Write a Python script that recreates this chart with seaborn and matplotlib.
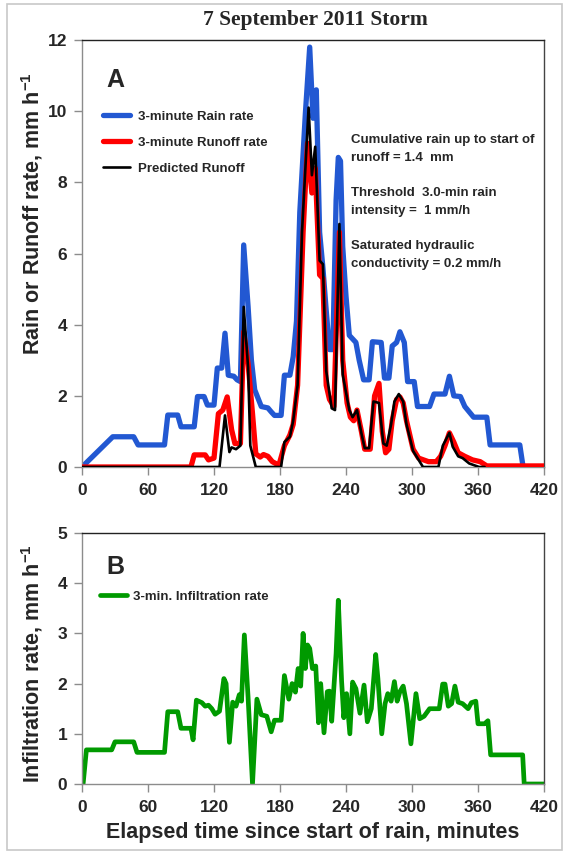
import numpy as np
import pandas as pd
import matplotlib
matplotlib.use("Agg")
import matplotlib.pyplot as plt
from matplotlib.patches import Rectangle
import seaborn as sns

# ---------------- data ----------------
rain_t = [0, 28, 47, 51, 75, 78, 87, 90, 102, 105, 111, 114, 120, 123, 127, 130, 133, 138,
          141, 144, 147, 151, 154, 157, 163, 169, 172, 175, 181, 184, 189, 192, 195, 198,
          203, 207, 210, 213, 216, 219, 222, 225, 228, 231, 233, 235, 237, 240, 243, 249,
          252, 256, 261, 264, 272, 275, 279, 282, 286, 289, 293, 296, 302, 305, 316, 320,
          330, 334, 338, 344, 348, 356, 368, 371, 398, 401, 420]
rain_v = [0, 0.85, 0.85, 0.62, 0.62, 1.46, 1.46, 1.13, 1.13, 1.98, 1.98, 1.74, 1.74, 2.78,
          2.78, 3.76, 2.58, 2.55, 2.45, 2.4, 6.24, 4.5, 3.0, 2.17, 1.7, 1.66, 1.55, 1.45,
          1.45, 2.58, 2.58, 3.1, 4.1, 7.16, 9.9, 11.8, 9.8, 10.6, 6.6, 5.6, 4.4, 3.3, 3.3,
          7.5, 8.7, 8.6, 6.2, 4.8, 3.7, 3.5, 3.0, 2.45, 2.45, 3.52, 3.5, 2.5, 2.5, 3.4, 3.5,
          3.8, 3.5, 2.4, 2.4, 1.7, 1.7, 2.05, 2.05, 2.55, 2.0, 1.98, 1.7, 1.4, 1.4, 0.62,
          0.62, 0, 0]

runoff_t = [0, 99, 102, 112, 115, 120, 124, 128, 132, 136, 139, 144, 147, 151, 155, 158,
            162, 165, 169, 173, 179, 184, 189, 192, 196, 201, 205, 209, 212, 216, 219, 222,
            225, 229, 234, 237, 241, 244, 247, 250, 254, 257, 262, 266, 270, 273, 276, 279,
            282, 286, 289, 292, 295, 301, 306, 315, 322, 326, 330, 334, 338, 342, 348, 355,
            362, 368, 420]
runoff_v = [0, 0, 0.34, 0.34, 0.2, 0.25, 1.5, 1.6, 1.97, 1.05, 0.66, 0.66, 3.8, 2.9, 1.5,
            0.37, 0.28, 0.35, 0.3, 0.15, 0.05, 0.6, 0.9, 1.2, 2.3, 6.6, 9.1, 7.7, 8.4, 5.4,
            5.3, 2.3, 1.9, 1.7, 6.6, 3.0, 1.8, 1.4, 1.3, 1.6, 1.0, 0.5, 0.5, 2.0, 2.35, 1.0,
            0.4, 0.5, 1.3, 1.9, 1.97, 1.8, 1.3, 0.5, 0.25, 0.15, 0.15, 0.3, 0.6, 0.96, 0.7,
            0.4, 0.3, 0.2, 0.15, 0.03, 0.03]

pred_t = [0, 125, 130, 134, 136, 140, 144, 147, 151, 153, 158, 181, 184, 189, 192, 196,
          200, 206, 209, 212, 216, 219, 222, 227, 230, 234, 237, 243, 246, 250, 254, 257,
          261, 265, 270, 274, 277, 281, 284, 288, 292, 295, 301, 306, 310, 324, 328, 334,
          337, 342, 346, 352, 361, 366]
pred_v = [0, 0, 1.45, 0.42, 0.55, 0.5, 0.6, 4.5, 2.8, 0.6, 0, 0, 0.7, 0.85, 1.3, 2.3, 6.6,
          10.1, 8.2, 9.0, 5.8, 5.7, 2.7, 1.65, 1.6, 6.83, 2.6, 1.6, 1.4, 1.6, 0.95, 0.53,
          0.53, 1.84, 1.8, 0.66, 0.6, 1.2, 1.84, 2.05, 1.84, 1.2, 0.45, 0.2, 0, 0, 0.6,
          0.96, 0.57, 0.3, 0.25, 0.1, 0, 0]

infil_t = [0, 1, 4, 27, 30, 47, 50, 75, 78, 87, 90, 99, 101, 104, 109, 112, 115, 118, 121,
           125, 129, 131, 134, 137, 140, 143, 145, 147.6, 151, 155, 159, 163, 168, 172, 175,
           181, 184, 188, 191, 194, 196.5, 198.8, 201, 203, 205, 207, 209.5, 212.5, 215,
           217, 220, 223, 225, 227, 231, 233, 236, 238, 240.5, 243.5, 246, 249, 252.7,
           256.4, 259.4, 263, 267, 269, 272.5, 275.5, 278, 281, 284, 286.5, 289, 292, 295,
           299, 303.6, 307, 311, 316, 324.8, 327.9, 330, 333, 336, 339, 342, 346, 351,
           354, 358, 360, 366, 369, 371.5, 400.6, 402, 420]
infil_v = [0, 0, 0.68, 0.68, 0.84, 0.84, 0.63, 0.63, 1.44, 1.44, 1.11, 1.11, 0.88, 1.67,
           1.62, 1.55, 1.57, 1.5, 1.39, 1.45, 2.1, 2.0, 0.83, 1.63, 1.55, 1.78, 1.65, 2.97,
           1.72, 0, 1.69, 1.38, 1.35, 1.04, 1.27, 1.27, 2.16, 1.69, 2.0, 1.83, 2.3, 1.95,
           3.0, 2.3, 2.77, 2.7, 2.3, 2.35, 1.22, 2.0, 1.02, 1.84, 1.85, 1.25, 2.6, 3.66,
           2.05, 1.32, 1.8, 1.0, 2.03, 1.9, 1.41, 1.97, 1.24, 1.5, 2.58, 2.1, 1.0, 1.6, 1.8,
           1.65, 2.04, 1.65, 1.84, 1.95, 1.6, 0.8, 1.8, 1.3, 1.35, 1.5, 1.5, 1.99, 1.99,
           1.55, 1.6, 1.95, 1.63, 1.6, 1.5, 1.62, 1.65, 1.2, 1.2, 1.26, 0.58, 0.58, 0, 0]

x_ticks = [0, 60, 120, 180, 240, 300, 360, 420]
top_yticks = [0, 2, 4, 6, 8, 10, 12]
bot_yticks = [0, 1, 2, 3, 4, 5]

# ---------------- style ----------------
sns.set_style("ticks")
plt.rcParams['font.family'] = ['Liberation Sans', 'DejaVu Sans']
plt.rcParams['font.weight'] = 'bold'
plt.rcParams['mathtext.fontset'] = 'custom'
plt.rcParams['mathtext.rm'] = 'Liberation Sans:bold'
plt.rcParams['mathtext.bf'] = 'Liberation Sans:bold'
plt.rcParams['mathtext.default'] = 'bf'

BLUE = '#2258d2'
RED = '#ff0000'
GREEN = '#009a00'
SPINE_GRAY = '#8c8c8c'

fig = plt.figure(figsize=(5.64, 8.52), dpi=100)
ax1 = fig.add_axes([82/564, 1-467/852, 462/564, 427/852])
ax2 = fig.add_axes([82/564, 1-784/852, 462/564, 251/852])

df_rain = pd.DataFrame({'t': rain_t, 'v': rain_v})
df_run = pd.DataFrame({'t': runoff_t, 'v': runoff_v})
df_pred = pd.DataFrame({'t': pred_t, 'v': pred_v})
df_inf = pd.DataFrame({'t': infil_t, 'v': infil_v})

sns.lineplot(data=df_rain, x='t', y='v', ax=ax1, color=BLUE, lw=3.8,
             label='3-minute Rain rate', estimator=None, sort=False, zorder=2)
sns.lineplot(data=df_run, x='t', y='v', ax=ax1, color=RED, lw=3.8,
             label='3-minute Runoff rate', estimator=None, sort=False, zorder=3)
sns.lineplot(data=df_pred, x='t', y='v', ax=ax1, color='black', lw=1.9,
             label='Predicted Runoff', estimator=None, sort=False, zorder=4)
sns.lineplot(data=df_inf, x='t', y='v', ax=ax2, color=GREEN, lw=3.4,
             label='3-min. Infiltration rate', estimator=None, sort=False)

for ax, yt, ymax in [(ax1, top_yticks, 12), (ax2, bot_yticks, 5)]:
    ax.set_xlim(0, 420)
    ax.set_ylim(0, ymax)
    ax.set_xticks(x_ticks)
    ax.set_yticks(yt)
    ax.tick_params(axis='both', labelsize=12.5, length=5.5, width=1, color=SPINE_GRAY,
                   direction='out')
    ax.tick_params(axis='x', pad=6)
    ax.tick_params(axis='y', pad=5)
    for lab in ax.get_xticklabels() + ax.get_yticklabels():
        lab.set_fontweight('bold')
    ax.spines['left'].set_color(SPINE_GRAY)
    ax.spines['bottom'].set_color(SPINE_GRAY)
    ax.spines['top'].set_color('#222222')
    ax.spines['right'].set_color('#444444')
    for s in ax.spines.values():
        s.set_linewidth(1.0)
    ax.set_xlabel('')

ax1.set_ylabel('Rain or Runoff rate, mm h$^{-1}$', fontsize=15.5, fontweight='bold')
ax1.yaxis.set_label_coords((45-82)/462, (467-214)/427)
ax2.set_ylabel('Infiltration rate, mm h$^{-1}$', fontsize=15.5, fontweight='bold')
ax2.yaxis.set_label_coords((45-82)/462, (784-664)/251)
ax2.set_xlabel('Elapsed time since start of rain, minutes', fontsize=15.5, fontweight='bold')
ax2.xaxis.set_label_coords(0.5, (784-822)/251)

ax1.legend(loc='upper left', bbox_to_anchor=(0.045, 0.835), frameon=False,
           fontsize=9.5, handlelength=2.1, handletextpad=0.55, labelspacing=1.05,
           borderaxespad=0, borderpad=0)
ax2.legend(loc='upper left', bbox_to_anchor=(0.038, 0.77), frameon=False,
           fontsize=9.5, handlelength=2.1, handletextpad=0.45,
           borderaxespad=0, borderpad=0)

ax1.text(0.052, (467-80)/427, 'A', transform=ax1.transAxes, fontsize=18,
         fontweight='bold', va='center', ha='left')
ax2.text(0.052, (784-567)/251, 'B', transform=ax2.transAxes, fontsize=18,
         fontweight='bold', va='center', ha='left')

notes = [('Cumulative rain up to start of', 140), ('runoff = 1.4  mm', 158),
         ('Threshold  3.0-min rain', 193), ('intensity =  1 mm/h', 211),
         ('Saturated hydraulic', 246), ('conductivity = 0.2 mm/h', 264)]
for txt, ypx in notes:
    ax1.text((351-82)/462, (467-ypx)/427, txt, transform=ax1.transAxes,
             fontsize=9.5, fontweight='bold', va='center', ha='left')

fig.text(315/564, 1-20/852, '7 September 2011 Storm', ha='center', va='center',
         fontsize=15.5, fontweight='bold', family=['Liberation Serif', 'DejaVu Serif'])

fig.add_artist(Rectangle((7/564, 2/852), 555/564, 846/852, transform=fig.transFigure,
                         fill=False, ec='#c8c8c8', lw=1.2))

fig.savefig('out.png', dpi=100)
